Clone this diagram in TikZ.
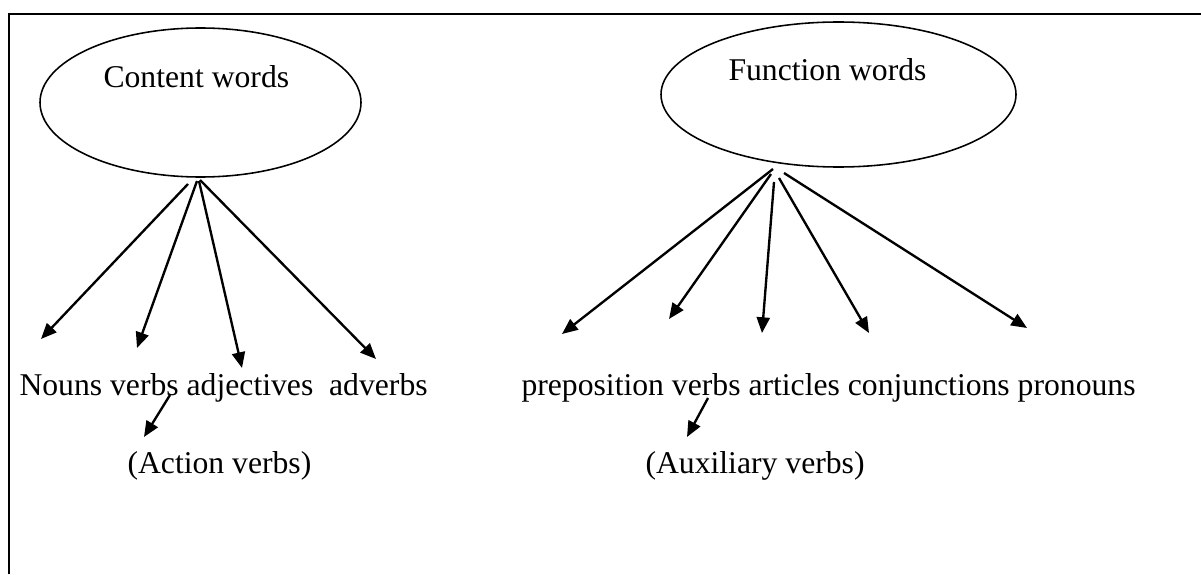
\documentclass[tikz,border=0pt]{standalone}
\usepackage{fontspec}
\setmainfont{Liberation Serif}
\usetikzlibrary{arrows.meta,shapes.geometric}
\tikzset{
	bubble/.style={draw, ellipse, line width=0.6pt, inner sep=0pt},
	arr/.style={line width=0.9pt, -{Triangle[length=6pt,width=5pt]}},
	txt/.style={anchor=base west, inner sep=0pt, font=\fontsize{12.1}{14}\selectfont}
}

\begin{document}
\begin{tikzpicture}[x=0.382pt, y=-0.382pt]
		%%%%% START %%%%%
		
		\useasboundingbox (0, 0) rectangle (1201, 574);
		\draw[line width=0.6pt] (9, 574) -- (9, 14) -- (1201, 14);
		
		\node[bubble, minimum width=321*0.382pt, minimum height=149*0.382pt] (content) at (200.5, 102.5) {};
		\node[txt] (contentlbl) at (103, 88) {Content words};
		
		\node[bubble, minimum width=355*0.382pt, minimum height=145*0.382pt] (function) at (838.5, 94.5) {};
		\node[txt] (functionlbl) at (728, 81) {Function words};
		
		\node[txt] (leftrow) at (19, 395) {Nouns verbs adjectives\ \ adverbs};
		\node[txt] (action) at (127, 473) {(Action verbs)};
		
		\node[txt] (rightrow) at (521, 395) {preposition verbs articles conjunctions pronouns};
		\node[txt] (auxiliary) at (645, 473) {(Auxiliary verbs)};
		
		\coordinate (c1) at (188, 184);
		\coordinate (c2) at (197, 181);
		\coordinate (c3) at (199, 181);
		\coordinate (c4) at (200, 180);
		\coordinate (nouns) at (41, 339);
		\coordinate (verbs) at (137, 348);
		\coordinate (adjectives) at (242, 368);
		\coordinate (adverbs) at (376, 359);
		\draw[arr] (c1) -- (nouns);
		\draw[arr] (c2) -- (verbs);
		\draw[arr] (c3) -- (adjectives);
		\draw[arr] (c4) -- (adverbs);
		
		\coordinate (f1) at (773, 169);
		\coordinate (f2) at (771, 174);
		\coordinate (f3) at (774, 182);
		\coordinate (f4) at (779, 178);
		\coordinate (f5) at (784, 173);
		\coordinate (preposition) at (562, 334);
		\coordinate (fverbs) at (669, 319);
		\coordinate (articles) at (762, 333);
		\coordinate (conjunctions) at (869, 333);
		\coordinate (pronouns) at (1027, 328);
		\draw[arr] (f1) -- (preposition);
		\draw[arr] (f2) -- (fverbs);
		\draw[arr] (f3) -- (articles);
		\draw[arr] (f4) -- (conjunctions);
		\draw[arr] (f5) -- (pronouns);
		
		\coordinate (averbs) at (170, 395);
		\coordinate (aaction) at (144, 437);
		\draw[arr] (averbs) -- (aaction);
		
		\coordinate (xverbs) at (708, 398);
		\coordinate (xauxiliary) at (687, 437);
		\draw[arr] (xverbs) -- (xauxiliary);
		
		%%%%% END %%%%%
	\end{tikzpicture}
\end{document}
